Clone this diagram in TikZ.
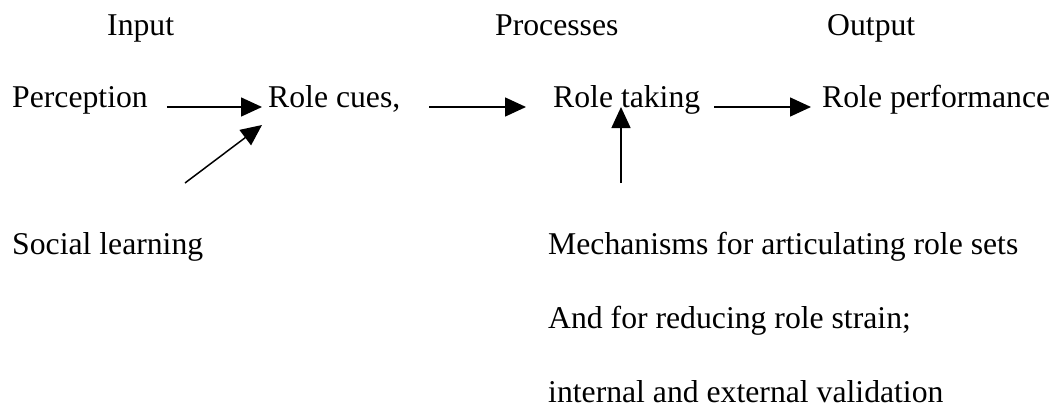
\documentclass[tikz,border=0pt]{standalone}
\usepackage{fontspec}
\setmainfont{Liberation Serif}
\usetikzlibrary{arrows.meta}
\usetikzlibrary{positioning}

\tikzset{
    lbl/.style={inner sep=0pt, anchor=base west, font=\fontsize{31.7pt}{38pt}\selectfont},
    arr/.style={line width=1.5pt, -{Triangle[length=21pt, width=19pt]}}
}

\begin{document}
\begin{tikzpicture}[x=1pt, y=-1pt]
    \useasboundingbox (0,0) rectangle (1058,407);
    % headings
    \foreach \name/\x/\txt in {input/107/Input, proc/495/Processes, output/827/Output} {
        \node[lbl] (\name) at (\x,35) {\txt};
    }
    \node[lbl] (percep) at (12,107) {Perception};
    \node[lbl] (cues) at (268,107) {Role cues,};
    \node[lbl] (taking) at (553,107) {Role taking};
    \node[lbl] (perf) at (822,107) {Role performance};
    \node[lbl] (social) at (12,254) {Social learning};
    \foreach \i/\y/\txt in {1/254/{Mechanisms for articulating role sets}, 2/328/{And for reducing role strain;}, 3/402/{internal and external validation}} {
        \node[lbl] (mech\i) at (548,\y) {\txt};
    }
    \coordinate (fromsocial) at (185,183);
    \coordinate (frommech) at (621,183);

    \draw[arr, yshift=2pt, shorten <=19pt, shorten >=6pt] (percep.base east) -- (cues.base west);
    \draw[arr, yshift=2pt, shorten <=29pt, shorten >=27pt] (cues.base east) -- (taking.base west);
    \draw[arr, yshift=2pt, shorten <=14pt, shorten >=11pt] (taking.base east) -- (perf.base west);
    \draw[arr] (fromsocial) -- ([shift={(-6,18)}]cues.base west);
    \draw[arr] (frommech) -- ([xshift=68pt]taking.base west);
\end{tikzpicture}
\end{document}
